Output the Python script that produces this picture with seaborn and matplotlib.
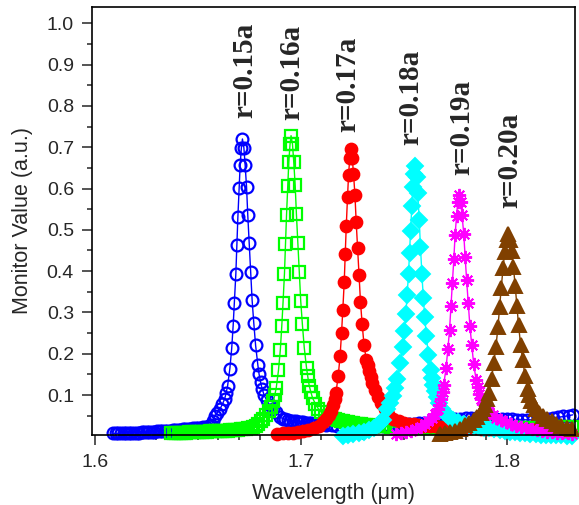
import matplotlib
matplotlib.use('Agg')
import matplotlib.pyplot as plt
import seaborn as sns
from matplotlib.ticker import MultipleLocator, FormatStrFormatter

# r = 0.15a
wl_015 = [1.6090, 1.6103, 1.6115, 1.6128, 1.6140, 1.6153, 1.6165, 1.6178, 1.6190, 1.6203,
          1.6215, 1.6228, 1.6240, 1.6253, 1.6265, 1.6278, 1.6290, 1.6303, 1.6315, 1.6328,
          1.6340, 1.6353, 1.6365, 1.6378, 1.6390, 1.6403, 1.6415, 1.6428, 1.6440, 1.6453,
          1.6465, 1.6478, 1.6490, 1.6503, 1.6515, 1.6528, 1.6540, 1.6553, 1.6565, 1.6574,
          1.6582, 1.6595, 1.6609, 1.6620, 1.6631, 1.6638, 1.6645, 1.6656, 1.6665, 1.6672,
          1.6678, 1.6685, 1.6690, 1.6695, 1.6701, 1.6706, 1.6712, 1.6717,
          1.6724, 1.6730, 1.6737, 1.6743, 1.6750, 1.6757, 1.6764, 1.6772, 1.6781, 1.6792,
          1.6798, 1.6805, 1.6813, 1.6822, 1.6835, 1.6849, 1.6865, 1.6882,
          1.6900, 1.6913, 1.6925, 1.6938, 1.6950, 1.6963, 1.6975, 1.6988, 1.7000, 1.7013,
          1.7025, 1.7038, 1.7050, 1.7063, 1.7075, 1.7088, 1.7100, 1.7113, 1.7125,
          1.7150, 1.7175, 1.7200, 1.7225, 1.7250, 1.7275, 1.7300, 1.7325, 1.7350, 1.7375,
          1.7400, 1.7425, 1.7450, 1.7475, 1.7500, 1.7525, 1.7550, 1.7575, 1.7600, 1.7625,
          1.7650, 1.7675, 1.7700, 1.7725, 1.7750, 1.7775, 1.7800, 1.7825, 1.7850, 1.7875,
          1.7900, 1.7925, 1.7950, 1.7975, 1.8000, 1.8025, 1.8050, 1.8075, 1.8100, 1.8125,
          1.8150, 1.8175, 1.8200, 1.8225, 1.8250, 1.8275, 1.8300, 1.8320]
val_015 = [0.007, 0.007, 0.007, 0.008, 0.008, 0.008, 0.008, 0.009, 0.009, 0.009,
           0.009, 0.010, 0.010, 0.010, 0.010, 0.011, 0.011, 0.012, 0.012, 0.013,
           0.013, 0.014, 0.014, 0.015, 0.015, 0.016, 0.016, 0.017, 0.017, 0.018,
           0.018, 0.019, 0.019, 0.020, 0.021, 0.022, 0.023, 0.025, 0.027, 0.036,
           0.049, 0.057, 0.067, 0.078, 0.091, 0.105, 0.122, 0.164, 0.213, 0.268,
           0.324, 0.393, 0.463, 0.532, 0.602, 0.657, 0.699, 0.720,
           0.699, 0.658, 0.604, 0.535, 0.467, 0.398, 0.330, 0.275, 0.220, 0.172,
           0.150, 0.131, 0.115, 0.100, 0.087, 0.076, 0.067, 0.059,
           0.046, 0.043, 0.041, 0.039, 0.038, 0.037, 0.036, 0.035, 0.034, 0.034,
           0.033, 0.033, 0.032, 0.031, 0.030, 0.030, 0.029, 0.029, 0.028,
           0.027, 0.026, 0.026, 0.025, 0.025, 0.025, 0.025, 0.025, 0.026, 0.026,
           0.026, 0.027, 0.027, 0.028, 0.028, 0.030, 0.031, 0.032, 0.033, 0.035,
           0.037, 0.039, 0.040, 0.041, 0.042, 0.043, 0.044, 0.044, 0.044, 0.044,
           0.043, 0.043, 0.042, 0.042, 0.041, 0.041, 0.040, 0.040, 0.040, 0.040,
           0.041, 0.042, 0.043, 0.044, 0.046, 0.048, 0.050, 0.052]

# r = 0.16a
wl_016 = [1.6370, 1.6383, 1.6395, 1.6408, 1.6420, 1.6433, 1.6445, 1.6458, 1.6470, 1.6483,
          1.6495, 1.6508, 1.6520, 1.6533, 1.6545, 1.6558, 1.6570, 1.6583, 1.6595, 1.6608,
          1.6620, 1.6633, 1.6645, 1.6658, 1.6670, 1.6683, 1.6695, 1.6708, 1.6720, 1.6733,
          1.6745, 1.6758, 1.6770, 1.6783, 1.6795, 1.6807,
          1.6818, 1.6832, 1.6845, 1.6856, 1.6867, 1.6874, 1.6881, 1.6892, 1.6901, 1.6908,
          1.6914, 1.6921, 1.6926, 1.6931, 1.6937, 1.6942, 1.6948, 1.6953,
          1.6960, 1.6966, 1.6973, 1.6979, 1.6986, 1.6993, 1.7000, 1.7008, 1.7017, 1.7028,
          1.7034, 1.7041, 1.7049, 1.7058, 1.7071, 1.7085, 1.7100, 1.7118,
          1.7130, 1.7143, 1.7155, 1.7168, 1.7180, 1.7193, 1.7205, 1.7218, 1.7230, 1.7243,
          1.7255, 1.7268, 1.7280, 1.7293, 1.7305, 1.7318, 1.7330, 1.7343, 1.7355, 1.7368,
          1.7380, 1.7393, 1.7405,
          1.7440, 1.7465, 1.7490, 1.7515, 1.7540, 1.7565, 1.7590, 1.7615,
          1.7640, 1.7665, 1.7690, 1.7715, 1.7740, 1.7765, 1.7790, 1.7815, 1.7840, 1.7865,
          1.7890, 1.7915, 1.7940, 1.7965, 1.7990, 1.8015, 1.8040, 1.8065, 1.8090, 1.8115,
          1.8140, 1.8165, 1.8190, 1.8215, 1.8240, 1.8265, 1.8290, 1.8315]
val_016 = [0.008, 0.008, 0.008, 0.009, 0.009, 0.009, 0.009, 0.010, 0.010, 0.010,
           0.010, 0.011, 0.011, 0.011, 0.011, 0.012, 0.012, 0.012, 0.012, 0.013,
           0.013, 0.014, 0.014, 0.015, 0.015, 0.016, 0.016, 0.017, 0.017, 0.018,
           0.019, 0.020, 0.022, 0.025, 0.030, 0.036,
           0.043, 0.052, 0.061, 0.072, 0.085, 0.100, 0.117, 0.160, 0.210, 0.267,
           0.323, 0.394, 0.465, 0.536, 0.607, 0.664, 0.707, 0.728,
           0.707, 0.665, 0.608, 0.538, 0.468, 0.398, 0.327, 0.271, 0.215, 0.166,
           0.145, 0.123, 0.107, 0.092, 0.079, 0.067, 0.058, 0.050,
           0.047, 0.045, 0.043, 0.041, 0.039, 0.037, 0.036, 0.035, 0.034, 0.033,
           0.032, 0.031, 0.030, 0.029, 0.028, 0.027, 0.027, 0.026, 0.026, 0.025,
           0.025, 0.024, 0.024,
           0.023, 0.022, 0.022, 0.021, 0.021, 0.021, 0.021, 0.020,
           0.020, 0.020, 0.020, 0.020, 0.020, 0.020, 0.020, 0.020, 0.020, 0.020,
           0.020, 0.020, 0.020, 0.020, 0.020, 0.021, 0.021, 0.021, 0.021, 0.021,
           0.021, 0.022, 0.022, 0.022, 0.022, 0.023, 0.023, 0.023]

# r = 0.17a
wl_017 = [1.6887, 1.6912, 1.6937, 1.6962, 1.6987, 1.7012, 1.7037, 1.7062, 1.7087,
          1.7108, 1.7122, 1.7135, 1.7146, 1.7157, 1.7164, 1.7171, 1.7182, 1.7191, 1.7198,
          1.7204, 1.7211, 1.7216, 1.7221, 1.7227, 1.7232, 1.7238, 1.7243,
          1.7250, 1.7256, 1.7263, 1.7269, 1.7276, 1.7283, 1.7290, 1.7298, 1.7307, 1.7318,
          1.7324, 1.7331, 1.7340, 1.7348, 1.7361, 1.7375, 1.7391, 1.7408, 1.7425,
          1.7450, 1.7475, 1.7500, 1.7525, 1.7550, 1.7575, 1.7600, 1.7625, 1.7650, 1.7675,
          1.7700, 1.7725, 1.7750, 1.7775, 1.7800, 1.7825, 1.7850, 1.7875, 1.7900, 1.7925,
          1.7950, 1.7975, 1.8000, 1.8025, 1.8050, 1.8075, 1.8100, 1.8125, 1.8150, 1.8175,
          1.8200, 1.8225, 1.8250, 1.8275, 1.8300]
val_017 = [0.006, 0.007, 0.007, 0.008, 0.010, 0.012, 0.015, 0.019, 0.026,
           0.034, 0.042, 0.051, 0.062, 0.075, 0.090, 0.106, 0.147, 0.195, 0.250,
           0.305, 0.373, 0.442, 0.510, 0.579, 0.633, 0.674, 0.695,
           0.675, 0.636, 0.585, 0.520, 0.455, 0.390, 0.325, 0.272, 0.222, 0.185,
           0.172, 0.158, 0.143, 0.128, 0.112, 0.095, 0.080, 0.066, 0.053,
           0.042, 0.037, 0.033, 0.031, 0.029, 0.027, 0.026, 0.025, 0.024, 0.023,
           0.022, 0.021, 0.021, 0.020, 0.020, 0.019, 0.019, 0.018, 0.018, 0.017,
           0.017, 0.017, 0.016, 0.016, 0.016, 0.016, 0.015, 0.015, 0.015, 0.015,
           0.015, 0.015, 0.015, 0.015, 0.015]

# r = 0.18a
wl_018 = [1.7206, 1.7231, 1.7256, 1.7281, 1.7306, 1.7331, 1.7356, 1.7381, 1.7400,
          1.7420, 1.7434, 1.7447, 1.7458, 1.7469, 1.7483, 1.7494, 1.7503, 1.7510, 1.7516,
          1.7523, 1.7528, 1.7533, 1.7539, 1.7544, 1.7550, 1.7555,
          1.7562, 1.7568, 1.7575, 1.7581, 1.7588, 1.7595, 1.7602, 1.7610, 1.7619, 1.7630,
          1.7636, 1.7643, 1.7651, 1.7660, 1.7673, 1.7687, 1.7703, 1.7720,
          1.7740, 1.7765, 1.7790, 1.7815, 1.7840, 1.7865, 1.7890, 1.7915, 1.7940, 1.7965,
          1.7990, 1.8015, 1.8040, 1.8065, 1.8090, 1.8115, 1.8140, 1.8165, 1.8190, 1.8215,
          1.8240, 1.8265, 1.8290, 1.8315]
val_018 = [0.001, 0.003, 0.005, 0.008, 0.011, 0.015, 0.021, 0.030, 0.040,
           0.066, 0.081, 0.098, 0.117, 0.138, 0.177, 0.216, 0.255, 0.295, 0.341,
           0.393, 0.445, 0.498, 0.557, 0.603, 0.635, 0.655,
           0.629, 0.590, 0.524, 0.459, 0.393, 0.334, 0.288, 0.242, 0.197, 0.160,
           0.142, 0.124, 0.110, 0.095, 0.080, 0.066, 0.055, 0.046,
           0.040, 0.035, 0.031, 0.028, 0.025, 0.023, 0.021, 0.019, 0.017, 0.015,
           0.013, 0.011, 0.010, 0.008, 0.007, 0.006, 0.005, 0.004, 0.003, 0.003,
           0.002, 0.002, 0.001, 0.001]

# r = 0.19a
wl_019 = [1.7460, 1.7485, 1.7510, 1.7535, 1.7560, 1.7585,
          1.7604, 1.7620, 1.7637, 1.7651, 1.7664, 1.7673, 1.7681, 1.7688, 1.7694, 1.7705,
          1.7714, 1.7722, 1.7729, 1.7736, 1.7743, 1.7749, 1.7756, 1.7762, 1.7769,
          1.7776, 1.7783, 1.7791, 1.7798, 1.7805, 1.7813, 1.7821, 1.7830, 1.7839, 1.7851,
          1.7858, 1.7865, 1.7874, 1.7884, 1.7899, 1.7914, 1.7931, 1.7949,
          1.7970, 1.7995, 1.8020, 1.8045, 1.8070, 1.8095, 1.8120, 1.8145, 1.8170, 1.8195,
          1.8220, 1.8245, 1.8270, 1.8295, 1.8315]
val_019 = [0.006, 0.008, 0.010, 0.013, 0.017, 0.023,
           0.030, 0.037, 0.045, 0.055, 0.065, 0.077, 0.091, 0.107, 0.125, 0.165,
           0.211, 0.257, 0.315, 0.372, 0.430, 0.487, 0.533, 0.568, 0.585,
           0.568, 0.535, 0.490, 0.434, 0.378, 0.322, 0.266, 0.221, 0.176, 0.137,
           0.119, 0.103, 0.090, 0.078, 0.068, 0.059, 0.052, 0.045,
           0.040, 0.035, 0.030, 0.026, 0.023, 0.020, 0.017, 0.015, 0.013, 0.011,
           0.010, 0.009, 0.008, 0.007, 0.006]

# r = 0.20a
wl_020 = [1.7675, 1.7700, 1.7725, 1.7750, 1.7775,
          1.7797, 1.7818, 1.7839, 1.7857, 1.7874, 1.7885, 1.7895, 1.7904, 1.7912, 1.7926,
          1.7937, 1.7947, 1.7957, 1.7965, 1.7973, 1.7982, 1.7990, 1.7999, 1.8007,
          1.8015, 1.8024, 1.8032, 1.8041, 1.8049, 1.8057, 1.8067, 1.8077, 1.8088, 1.8102,
          1.8110, 1.8119, 1.8130, 1.8140, 1.8157, 1.8175, 1.8196, 1.8217,
          1.8240, 1.8265, 1.8290, 1.8315]
val_020 = [0.006, 0.008, 0.010, 0.013, 0.018,
           0.027, 0.033, 0.039, 0.047, 0.056, 0.066, 0.077, 0.091, 0.106, 0.140,
           0.178, 0.216, 0.264, 0.312, 0.360, 0.408, 0.447, 0.476, 0.490,
           0.476, 0.448, 0.410, 0.363, 0.316, 0.269, 0.222, 0.185, 0.147, 0.114,
           0.100, 0.086, 0.075, 0.065, 0.056, 0.048, 0.041, 0.036,
           0.030, 0.025, 0.021, 0.018]

labels = ['r=0.15a', 'r=0.16a', 'r=0.17a', 'r=0.18a', 'r=0.19a', 'r=0.20a']
label_x = [1.6726, 1.6954, 1.7228, 1.7536, 1.7779, 1.8016]
label_y = [0.771, 0.766, 0.737, 0.705, 0.633, 0.553]

series = [
    (wl_015, val_015, '#0000FF', 'o', 8.5, 'none'),
    (wl_016, val_016, '#00FF00', 's', 8, 'none'),
    (wl_017, val_017, '#FF0000', 'o', 8.5, 'full'),
    (wl_018, val_018, '#00FFFF', 'D', 8, 'full'),
    (wl_019, val_019, '#FF00FF', (8, 2, 0), 9.5, 'full'),
    (wl_020, val_020, '#804000', '^', 9.5, 'full'),
]

sns.set_style('ticks')
plt.rcParams['font.family'] = ['Liberation Sans', 'DejaVu Sans']

fig = plt.figure(figsize=(5.79, 5.05), dpi=100)
ax = fig.add_axes([0.1589, 0.1396, 0.8342, 0.8465])

for wl, val, c, m, ms, fill in series:
    mfc = 'none' if fill == 'none' else c
    mew = 1.6 if fill == 'none' else 1.4
    sns.lineplot(x=wl, y=val, ax=ax, color=c, marker=m, markersize=ms,
                 markerfacecolor=mfc, markeredgecolor=c, markeredgewidth=mew,
                 linewidth=1.0, sort=False, estimator=None, clip_on=False)

for t, x, y in zip(labels, label_x, label_y):
    ax.text(x, y, t, rotation=90, ha='center', va='bottom', fontsize=21,
            fontweight='bold', family=['Liberation Serif', 'DejaVu Serif'])

ax.set_xlim(1.5987, 1.8331)
ax.set_ylim(0.0044, 1.0395)
ax.xaxis.set_major_locator(MultipleLocator(0.1))
ax.xaxis.set_minor_locator(MultipleLocator(0.01))
ax.yaxis.set_minor_locator(MultipleLocator(0.05))
ax.xaxis.set_major_formatter(FormatStrFormatter('%.1f'))
ax.yaxis.set_major_formatter(FormatStrFormatter('%.1f'))
ax.set_yticks([0.1, 0.2, 0.3, 0.4, 0.5, 0.6, 0.7, 0.8, 0.9, 1.0])

ax.tick_params(which='major', direction='out', length=7, width=1.1, labelsize=14)
ax.tick_params(axis='y', which='major', pad=6)
ax.tick_params(axis='x', which='major', pad=7)
ax.tick_params(which='minor', direction='out', length=3.5, width=1.1)
for s in ax.spines.values():
    s.set_visible(True)
    s.set_linewidth(1.2)
    s.set_color('black')

ax.set_xlabel('Wavelength (\u03bcm)', fontsize=15.5, labelpad=9)
ax.set_ylabel('Monitor Value (a.u.)', fontsize=15.5, labelpad=10)

fig.savefig('out.png', dpi=100)
